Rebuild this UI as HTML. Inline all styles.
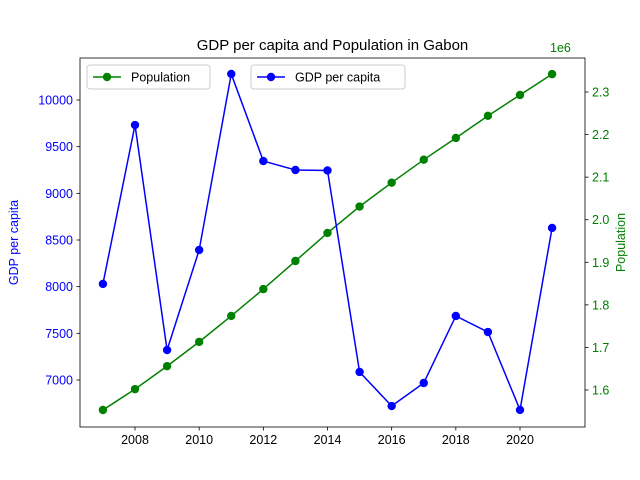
<!DOCTYPE html>
<html><head><meta charset="utf-8">
<style>body{margin:0;background:#fff}svg{display:block;font-family:"Liberation Sans","DejaVu Sans",sans-serif}</style>
</head><body>
<svg id="chart" width="640" height="480" viewBox="0 0 640 480"></svg>
<script>
const years = [2007,2008,2009,2010,2011,2012,2013,2014,2015,2016,2017,2018,2019,2020,2021];
const gdp = [8029,9732,7321,8393,10279,9346,9250,9245,7086,6721,6968,7686,7514,6679,8629];
const pop = [1.553,1.602,1.656,1.713,1.774,1.837,1.903,1.969,2.031,2.087,2.141,2.192,2.244,2.293,2.342];
const xTicks = [2008,2010,2012,2014,2016,2018,2020];
const gdpTicks = [7000,7500,8000,8500,9000,9500,10000];
const popTicks = [1.6,1.7,1.8,1.9,2.0,2.1,2.2,2.3];

const L=80,R=585,T=58,B=427;
const x = v => 135 + (v-2008)*(520-135)/12;
const yG = v => 380 - (v-7000)*(280/3000);
const yP = v => 390 - (v-1.6)*(298/0.7);
const svg=document.getElementById('chart');
const NS='http://www.w3.org/2000/svg';
function add(tag,attrs,parent){const e=document.createElementNS(NS,tag);for(const k in attrs)e.setAttribute(k,attrs[k]);(parent||svg).appendChild(e);return e;}
function txt(s,attrs,parent){const e=add('text',attrs,parent);e.textContent=s;return e;}

const frame=add('rect',{x:L,y:T,width:R-L,height:B-T,fill:'none',stroke:'#000','stroke-width':0.8});



const xg=add('g',{});


xTicks.forEach(t=>{add('line',{x1:x(t),x2:x(t),y1:B,y2:B+3.5,stroke:'#000','stroke-width':0.8},xg);
 txt(String(t),{x:x(t),y:B+17,'font-size':12.5,'text-anchor':'middle'},xg);});

const yl=add('g',{});


gdpTicks.forEach(t=>{add('line',{x1:L-3.5,x2:L,y1:yG(t),y2:yG(t),stroke:'#000','stroke-width':0.8},yl);
 txt(String(t),{x:L-7,y:yG(t)+4.5,'font-size':12.5,'text-anchor':'end',fill:'blue'},yl);});
const ylt=txt('GDP per capita',{x:18,y:(T+B)/2,'font-size':12.5,fill:'blue','text-anchor':'middle',transform:`rotate(-90 18 ${(T+B)/2})`});



const yr=add('g',{});


popTicks.forEach(t=>{add('line',{x1:R,x2:R+3.5,y1:yP(t),y2:yP(t),stroke:'#000','stroke-width':0.8},yr);
 txt(t.toFixed(1),{x:R+7,y:yP(t)+4.5,'font-size':12.5,fill:'green'},yr);});
txt('1e6',{x:550,y:52,'font-size':12.5,fill:'green'},yr);
const yrt=txt('Population',{x:625,y:(T+B)/2,'font-size':12.5,fill:'green','text-anchor':'middle',transform:`rotate(-90 625 ${(T+B)/2})`});



const ttl=txt('GDP per capita and Population in Gabon',{x:(L+R)/2,y:50,'font-size':15,'text-anchor':'middle'});



function series(vals,fy,color,name){
 const g=add('g',{});
 
 
 add('polyline',{points:years.map((yy,i)=>x(yy)+','+fy(vals[i])).join(' '),fill:'none',stroke:color,'stroke-width':1.5},g);
 years.forEach((yy,i)=>{const c=add('circle',{cx:x(yy),cy:fy(vals[i]),r:4.2,fill:color},g);
  
  });
}
series(pop,yP,'green','population-series');
series(gdp,yG,'blue','gdp-series');

function legend(x0,w,label,color,name){
 const g=add('g',{});
 
 
 add('rect',{x:x0,y:65,width:w,height:24,rx:3,fill:'#fff','fill-opacity':0.8,stroke:'#ccc'},g);
 add('line',{x1:x0+6,x2:x0+34,y1:77,y2:77,stroke:color,'stroke-width':1.5},g);
 add('circle',{cx:x0+20,cy:77,r:4.2,fill:color},g);
 txt(label,{x:x0+44,y:81.5,'font-size':12.5},g);
}
legend(87,123,'Population','green','legend-population');
legend(251,154,'GDP per capita','blue','legend-gdp');
</script>
</body></html>
